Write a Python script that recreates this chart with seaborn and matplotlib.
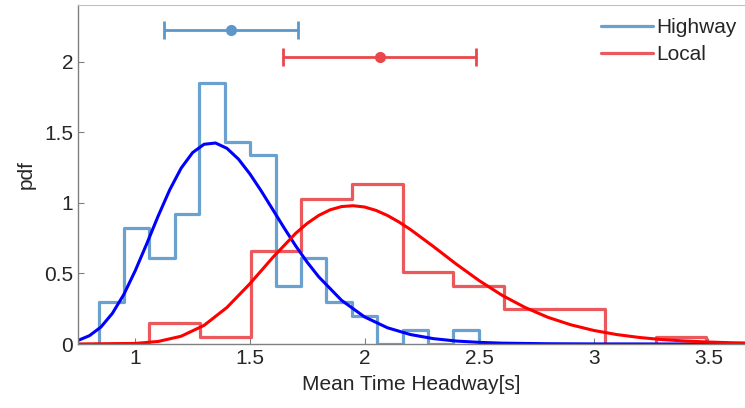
import numpy as np
import pandas as pd
import matplotlib
matplotlib.use("Agg")
import matplotlib.pyplot as plt
import seaborn as sns

# histogram bins (density)
hw_edges = [0.840, 0.949, 1.061, 1.173, 1.279, 1.392, 1.502, 1.614,
            1.724, 1.833, 1.945, 2.055, 2.167, 2.276, 2.386, 2.498]
hw_heights = [0.30, 0.82, 0.61, 0.92, 1.85, 1.43, 1.335, 0.41,
              0.61, 0.30, 0.20, 0.0, 0.10, 0.0, 0.10]

loc_edges = [1.061, 1.282, 1.503, 1.724, 1.945, 2.166, 2.387,
             2.608, 2.829, 3.050, 3.271, 3.492]
loc_heights = [0.15, 0.05, 0.66, 1.03, 1.13, 0.51, 0.41, 0.25, 0.25, 0.0, 0.05]

# fitted pdf curves
hw_fit_x = [0.75, 0.80, 0.85, 0.90, 0.95, 1.00, 1.05, 1.10, 1.15, 1.20, 1.25,
            1.30, 1.35, 1.40, 1.45, 1.50, 1.55, 1.60, 1.65, 1.70, 1.75, 1.80,
            1.90, 2.00, 2.10, 2.20, 2.30, 2.40, 2.50, 2.60, 2.80, 3.00, 3.30, 3.70]
hw_fit_y = [0.025, 0.059, 0.120, 0.217, 0.351, 0.52, 0.710, 0.907, 1.091, 1.245, 1.355,
            1.414, 1.423, 1.385, 1.309, 1.204, 1.082, 0.951, 0.820, 0.694, 0.579, 0.476,
            0.309, 0.192, 0.115, 0.067, 0.038, 0.021, 0.0115, 0.006, 0.0018, 0.0005, 0.0, 0.0]

loc_fit_x = [0.75, 1.00, 1.10, 1.20, 1.30, 1.40, 1.50, 1.60, 1.70, 1.75, 1.80, 1.85,
             1.90, 1.95, 2.00, 2.05, 2.10, 2.15, 2.20, 2.30, 2.40, 2.50, 2.60, 2.70,
             2.80, 2.90, 3.00, 3.10, 3.20, 3.30, 3.40, 3.50, 3.60, 3.70]
loc_fit_y = [0.0, 0.004, 0.018, 0.055, 0.132, 0.259, 0.427, 0.613, 0.784, 0.854, 0.910, 0.950,
             0.973, 0.979, 0.970, 0.946, 0.910, 0.864, 0.811, 0.691, 0.566, 0.449, 0.345, 0.259,
             0.189, 0.136, 0.096, 0.067, 0.046, 0.031, 0.021, 0.014, 0.009, 0.006]

# mean +/- std markers
hw_mean, hw_std, hw_bar_y = 1.418, 0.293, 2.22
loc_mean, loc_std, loc_bar_y = 2.066, 0.422, 2.033

HW_COLOR = "#5b97c9"
LOC_COLOR = "#e9474b"

sns.set_style("ticks")
plt.rcParams["font.family"] = ["Liberation Sans", "DejaVu Sans"]

fig = plt.figure(figsize=(7.45, 4.08), dpi=100)
ax = fig.add_axes([78 / 745, 64 / 408, 667 / 745, 339 / 408])


def step_hist(edges, heights, color, label):
    # pad with an empty bin each side so the outline drops to the baseline
    w0 = edges[1] - edges[0]
    w1 = edges[-1] - edges[-2]
    e = [edges[0] - w0] + list(edges) + [edges[-1] + w1]
    h = [0.0] + list(heights) + [0.0]
    df = pd.DataFrame({"x": [(a + b) / 2 for a, b in zip(e[:-1], e[1:])], "w": h})
    sns.histplot(data=df, x="x", weights="w", bins=e, element="step", fill=False,
                 stat="count", color=color, linewidth=2.3, alpha=0.9,
                 label=label, ax=ax)


step_hist(hw_edges, hw_heights, HW_COLOR, "Highway")
step_hist(loc_edges, loc_heights, LOC_COLOR, "Local")

sns.lineplot(x=hw_fit_x, y=hw_fit_y, color="#0000ff", linewidth=2.2, ax=ax)
sns.lineplot(x=loc_fit_x, y=loc_fit_y, color="#ff0000", linewidth=2.2, ax=ax)

ax.errorbar([hw_mean], [hw_bar_y], xerr=[hw_std], fmt="o", color=HW_COLOR,
            ms=7, elinewidth=2, capsize=6.5, capthick=2)
ax.errorbar([loc_mean], [loc_bar_y], xerr=[loc_std], fmt="o", color=LOC_COLOR,
            ms=7, elinewidth=2, capsize=6.5, capthick=2)

ax.set_xlim(0.75, 3.66)
ax.set_ylim(0, 2.4)
ax.set_xticks([1, 1.5, 2, 2.5, 3, 3.5])
ax.set_xticklabels(["1", "1.5", "2", "2.5", "3", "3.5"])
ax.set_yticks([0, 0.5, 1, 1.5, 2])
ax.set_yticklabels(["0", "0.5", "1", "1.5", "2"])
ax.tick_params(direction="in", length=4, width=0.8, colors="#808080",
               labelcolor="#262626", labelsize=15)
ax.set_xlabel("Mean Time Headway[s]", fontsize=15, color="#262626", labelpad=5)
ax.set_ylabel("pdf", fontsize=15, color="#262626", labelpad=6)

for side in ["left", "bottom"]:
    ax.spines[side].set_color("#808080")
    ax.spines[side].set_linewidth(1.0)
ax.spines["top"].set_visible(True)
ax.spines["top"].set_color("#c0c0c0")
ax.spines["right"].set_visible(False)

ax.legend(loc="upper right", frameon=False, fontsize=15, handlelength=2.5,
          handletextpad=0.15, labelspacing=0.38, borderaxespad=0.0,
          bbox_to_anchor=(1.0, 0.985))

fig.savefig("out.png", dpi=100)
